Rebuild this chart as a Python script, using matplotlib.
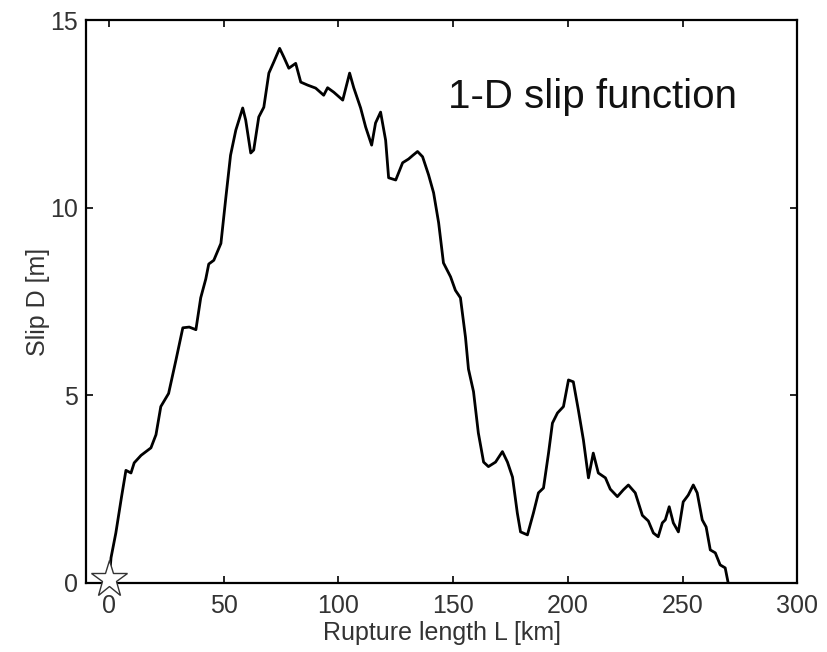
import matplotlib
matplotlib.use("Agg")
import matplotlib.pyplot as plt

rupture_km = [0, 0.9, 3, 5.5, 7.4, 9.6, 11, 14, 18.3, 20.5, 22.6, 26, 29.2, 32.2, 35, 37.9,
              40, 42.2, 43.5, 45.7, 48.8, 51, 53, 55.3, 58.3, 59.6, 61.8, 63.1, 65.3, 67.5,
              69.7, 71.8, 74.4, 76.2, 78.4, 81.4, 83.6, 86.6, 90.1, 93.6, 95.3, 98, 101.9,
              104.9, 106.7, 109.7, 111.9, 114.5, 116.2, 118.4, 120.6, 121.9, 125, 128, 130.6,
              132.5, 134.5, 136.7, 139.3, 141.5, 143.7, 145.8, 148.9, 151, 153.2, 155.4, 156.7,
              158.9, 161, 163.3, 165.4, 168.5, 171.5, 173.7, 175.9, 178, 179.4, 182.4, 185,
              187.2, 189.4, 191.6, 193.3, 195.5, 198.1, 200.3, 202.4, 204.6, 206.8, 209, 211.1,
              213.3, 216.4, 218.5, 221.6, 224.2, 226.4, 229.4, 232.5, 235.1, 237.3, 239.4,
              241.2, 242.5, 244.2, 246, 248.2, 250.3, 252.5, 254.7, 256.4, 258.6, 260.3, 262.1,
              264.3, 266.4, 268.6, 269.9]
slip_m = [0.0, 0.67, 1.33, 2.3, 3.0, 2.93, 3.2, 3.4, 3.6, 3.95, 4.7, 5.05, 5.94, 6.8, 6.82, 6.75,
          7.6, 8.1, 8.5, 8.6, 9.05, 10.3, 11.4, 12.07, 12.66, 12.34, 11.46, 11.54, 12.42, 12.68,
          13.59, 13.88, 14.25, 14.02, 13.72, 13.85, 13.35, 13.27, 13.19, 13.0, 13.2, 13.08, 12.87,
          13.59, 13.2, 12.66, 12.15, 11.67, 12.26, 12.55, 11.8, 10.8, 10.74, 11.2, 11.3,
          11.4, 11.5, 11.36, 10.88, 10.4, 9.6, 8.53, 8.16, 7.8, 7.6, 6.55, 5.7,
          5.1, 4.0, 3.22, 3.1, 3.22, 3.5, 3.22, 2.82, 1.86, 1.36, 1.28, 1.86,
          2.4, 2.53, 3.46, 4.26, 4.53, 4.7, 5.41, 5.36, 4.61, 3.81, 2.8, 3.46,
          2.93, 2.8, 2.5, 2.3, 2.48, 2.61, 2.4, 1.8, 1.65, 1.33, 1.23,
          1.6, 1.68, 2.03, 1.6, 1.36, 2.16, 2.34, 2.61, 2.4, 1.68, 1.49, 0.88,
          0.8, 0.48, 0.4, 0.0]

hypocenter = (0, 0.1)
x_ticks = [0, 50, 100, 150, 200, 250, 300]
y_ticks = [0, 5, 10, 15]

plt.rcParams['font.family'] = ['Liberation Sans', 'DejaVu Sans']

fig = plt.figure(figsize=(8.27, 6.52), dpi=100)
ax = fig.add_axes([0.104, 0.106, 0.86, 0.863])

ax.plot(rupture_km, slip_m, color='black', lw=2.0)
ax.plot([hypocenter[0]], [hypocenter[1]], marker='*', ms=28, mfc='white', mec='#333333',
        mew=1.0, clip_on=False, zorder=5)

ax.set_xlim(-10, 300)
ax.set_ylim(0, 15)
ax.set_xticks(x_ticks)
ax.set_yticks(y_ticks)
ax.tick_params(direction='in', length=5, width=1.2, top=True, right=True,
               labelsize=18, labelcolor='#333333')
ax.tick_params(axis='x', pad=8)
ax.tick_params(axis='y', pad=6)
for s in ax.spines.values():
    s.set_linewidth(1.6)

ax.set_xlabel('Rupture length L [km]', fontsize=18, color='#333333', labelpad=2)
ax.set_ylabel('Slip D [m]', fontsize=18, color='#333333', labelpad=0)

ax.text(147.6, 12.95, '1-D slip function', fontsize=29, ha='left', va='center', color='#111111')

fig.savefig('out.png', dpi=100)
